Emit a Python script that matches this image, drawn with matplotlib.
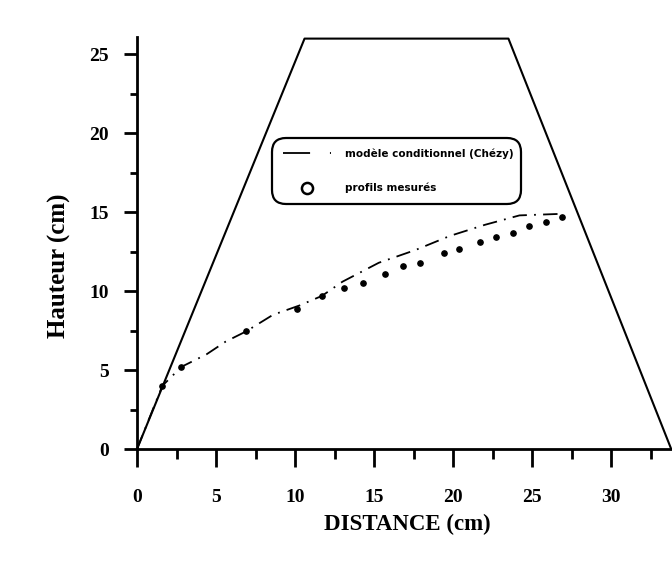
import matplotlib
matplotlib.use("Agg")
import matplotlib.pyplot as plt
from matplotlib.ticker import MultipleLocator

# Data
trap_x = [0, 10.6, 23.5, 33.8]
trap_y = [0, 26.0, 26.0, 0]

calc_x = [0, 1.6, 2.8, 4.4, 5.6, 6.9, 8.6, 10.3, 11.7, 13.0, 15.3, 17.6, 19.8, 22.0, 24.2, 26.9]
calc_y = [0, 4.0, 5.2, 6.0, 6.8, 7.45, 8.5, 9.1, 9.7, 10.6, 11.8, 12.6, 13.5, 14.2, 14.8, 14.9]

meas_x = [1.6, 2.8, 6.9, 10.1, 11.7, 13.1, 14.3, 15.7, 16.8, 17.9, 19.4, 20.4, 21.7, 22.7, 23.8, 24.8, 25.9, 26.9]
meas_y = [4.0, 5.2, 7.5, 8.9, 9.7, 10.2, 10.5, 11.1, 11.6, 11.8, 12.4, 12.7, 13.1, 13.4, 13.7, 14.1, 14.4, 14.7]

x_ticks = [0, 5, 10, 15, 20, 25, 30]
y_ticks = [0, 5, 10, 15, 20, 25]
label_calc = "modèle conditionnel (Chézy)"
label_meas = "profils mesurés"

plt.rcParams['font.family'] = ['Liberation Serif', 'DejaVu Serif']

fig = plt.figure(figsize=(6.72, 5.67), dpi=100)
ax = fig.add_axes([0.2039, 0.2081, 0.7961, 0.7266])

ax.plot(trap_x, trap_y, color='black', lw=1.5, clip_on=False)
ax.plot(calc_x, calc_y, color='black', lw=1.3, linestyle=(0, (8, 4, 1, 4)),
        label=label_calc)
ax.plot(meas_x, meas_y, linestyle='none', marker='o', ms=3.8, color='black',
        mfc='black', label=label_meas)

ax.set_xlim(0, 33.85)
ax.set_ylim(0, 26.1)
ax.set_xticks(x_ticks)
ax.set_yticks(y_ticks)
ax.xaxis.set_minor_locator(MultipleLocator(2.5))
ax.yaxis.set_minor_locator(MultipleLocator(2.5))

for s in ['top', 'right']:
    ax.spines[s].set_visible(False)
for s in ['left', 'bottom']:
    ax.spines[s].set_linewidth(2.0)

ax.tick_params(axis='x', which='major', direction='out', length=13, width=2.0,
               labelsize=14, pad=16)
ax.tick_params(axis='x', which='minor', direction='out', length=7, width=2.0)
ax.tick_params(axis='y', which='major', direction='out', length=9.5, width=2.0,
               labelsize=14, pad=11)
ax.tick_params(axis='y', which='minor', direction='out', length=5, width=2.0)
for lab in ax.get_xticklabels() + ax.get_yticklabels():
    lab.set_fontweight('bold')

ax.set_xlabel("DISTANCE (cm)", fontsize=16.5, fontweight='bold', va='center')
ax.xaxis.set_label_coords(0.505, -0.184)
ax.set_ylabel("Hauteur (cm)", fontsize=18, fontweight='bold', va='center')
ax.yaxis.set_label_coords(-0.145, 0.444)

h1, = ax.plot([], [], color='black', lw=1.3, linestyle=(0, (15, 11, 1, 20)))
h2, = ax.plot([], [], linestyle='none', marker='o', ms=8, mfc='white',
              mec='black', mew=1.8)
leg = ax.legend([h1, h2], [label_calc, label_meas],
                loc='upper left', bbox_to_anchor=(0.252, 0.595, 0.466, 0.161),
                mode='expand', borderaxespad=0, frameon=True, fancybox=True,
                handlelength=4.6, handletextpad=1.4, borderpad=1.05,
                labelspacing=2.3,
                prop={'family': 'DejaVu Sans', 'weight': 'bold', 'size': 7.5})
fr = leg.get_frame()
fr.set_edgecolor('black')
fr.set_linewidth(1.6)
fr.set_alpha(1)
fr.set_boxstyle('round,pad=0,rounding_size=1.4')

fig.savefig("out.png", dpi=100)
